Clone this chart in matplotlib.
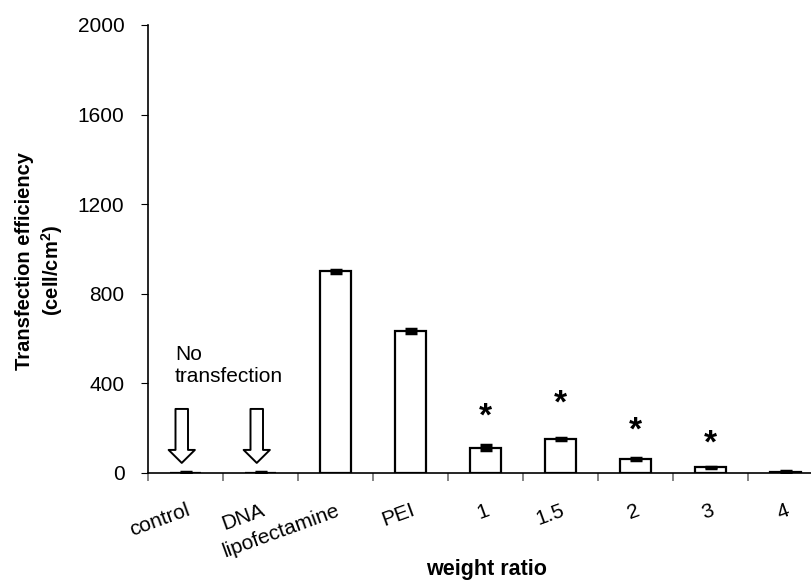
import matplotlib.pyplot as plt
import numpy as np

plt.rcParams['font.family'] = ['Liberation Sans', 'DejaVu Sans']

# data
categories = ['control', 'DNA', 'lipofectamine', 'PEI', '1', '1.5', '2', '3', '4']
efficiency = [1, 1, 900, 635, 113, 152, 62, 25, 5]
errors = [3, 3, 6, 10, 12, 3, 6, 4, 2]
star_categories = ['1', '1.5', '2', '3']
star_heights = [277, 335, 214, 156]
arrow_categories = ['control', 'DNA']
arrow_top, arrow_bottom = 286, 45

W, H = 811, 580
fig = plt.figure(figsize=(W / 100, H / 100), dpi=100)
ax = fig.add_axes([148 / W, 107 / H, 675 / W, 448 / H])

x = np.arange(len(categories))
ax.bar(x, efficiency, width=0.41, color='white', edgecolor='black',
       linewidth=1.6, zorder=2)
ax.errorbar(x, efficiency, yerr=errors, fmt='none', ecolor='black',
            elinewidth=2, capsize=4.3, capthick=2.5, zorder=3)

# significance stars (glyph sits high in its box, so nudge down a bit)
for cat, h in zip(star_categories, star_heights):
    ax.annotate('*', (categories.index(cat), h), xytext=(0, -6),
                textcoords='offset pixels', ha='center', va='center',
                fontsize=24, fontweight='bold')

# hollow arrows for "no transfection"
for cat in arrow_categories:
    xi = categories.index(cat)
    ax.annotate('', xy=(xi - 0.05, arrow_bottom), xytext=(xi - 0.05, arrow_top),
                arrowprops=dict(arrowstyle='simple,head_length=0.52,head_width=1.05,tail_width=0.5',
                                fc='white', ec='black', lw=1.4,
                                shrinkA=0, shrinkB=0, mutation_scale=18))
ax.text(-0.14, 482, 'No\ntransfection', ha='left', va='center', fontsize=15)

ax.set_xlim(-0.5, len(categories) - 0.5)
ax.set_ylim(0, 2000)
ax.set_yticks(np.arange(0, 2001, 400))
ax.tick_params(axis='y', direction='out', length=5, labelsize=15, pad=12)

ax.set_xticks(np.arange(-0.5, len(categories), 1))
ax.set_xticklabels([])
ax.tick_params(axis='x', which='major', direction='out', length=6,
               width=1.2, color='#707070')
ax.set_xticks(x, minor=True)
ax.set_xticklabels(categories, minor=True, rotation=20, ha='right',
                   rotation_mode='anchor', fontsize=15)
ax.tick_params(axis='x', which='minor', length=0, pad=20)

for s in ['top', 'right']:
    ax.spines[s].set_visible(False)
ax.spines['left'].set_linewidth(1.2)
ax.spines['bottom'].set_linewidth(1.2)

fig.text(25 / W, 1 - 261 / H, 'Transfection efficiency', rotation=90,
         ha='center', va='center', fontsize=14.5, fontweight='bold')
fig.text(52 / W, 1 - 270 / H, '(cell/cm$^\\mathregular{2}$)', rotation=90,
         ha='center', va='center', fontsize=14.5, fontweight='bold')
fig.text(487 / W, 1 - 570 / H, 'weight ratio', ha='center', va='center',
         fontsize=15.5, fontweight='bold')

plt.savefig('out.png', dpi=100)
